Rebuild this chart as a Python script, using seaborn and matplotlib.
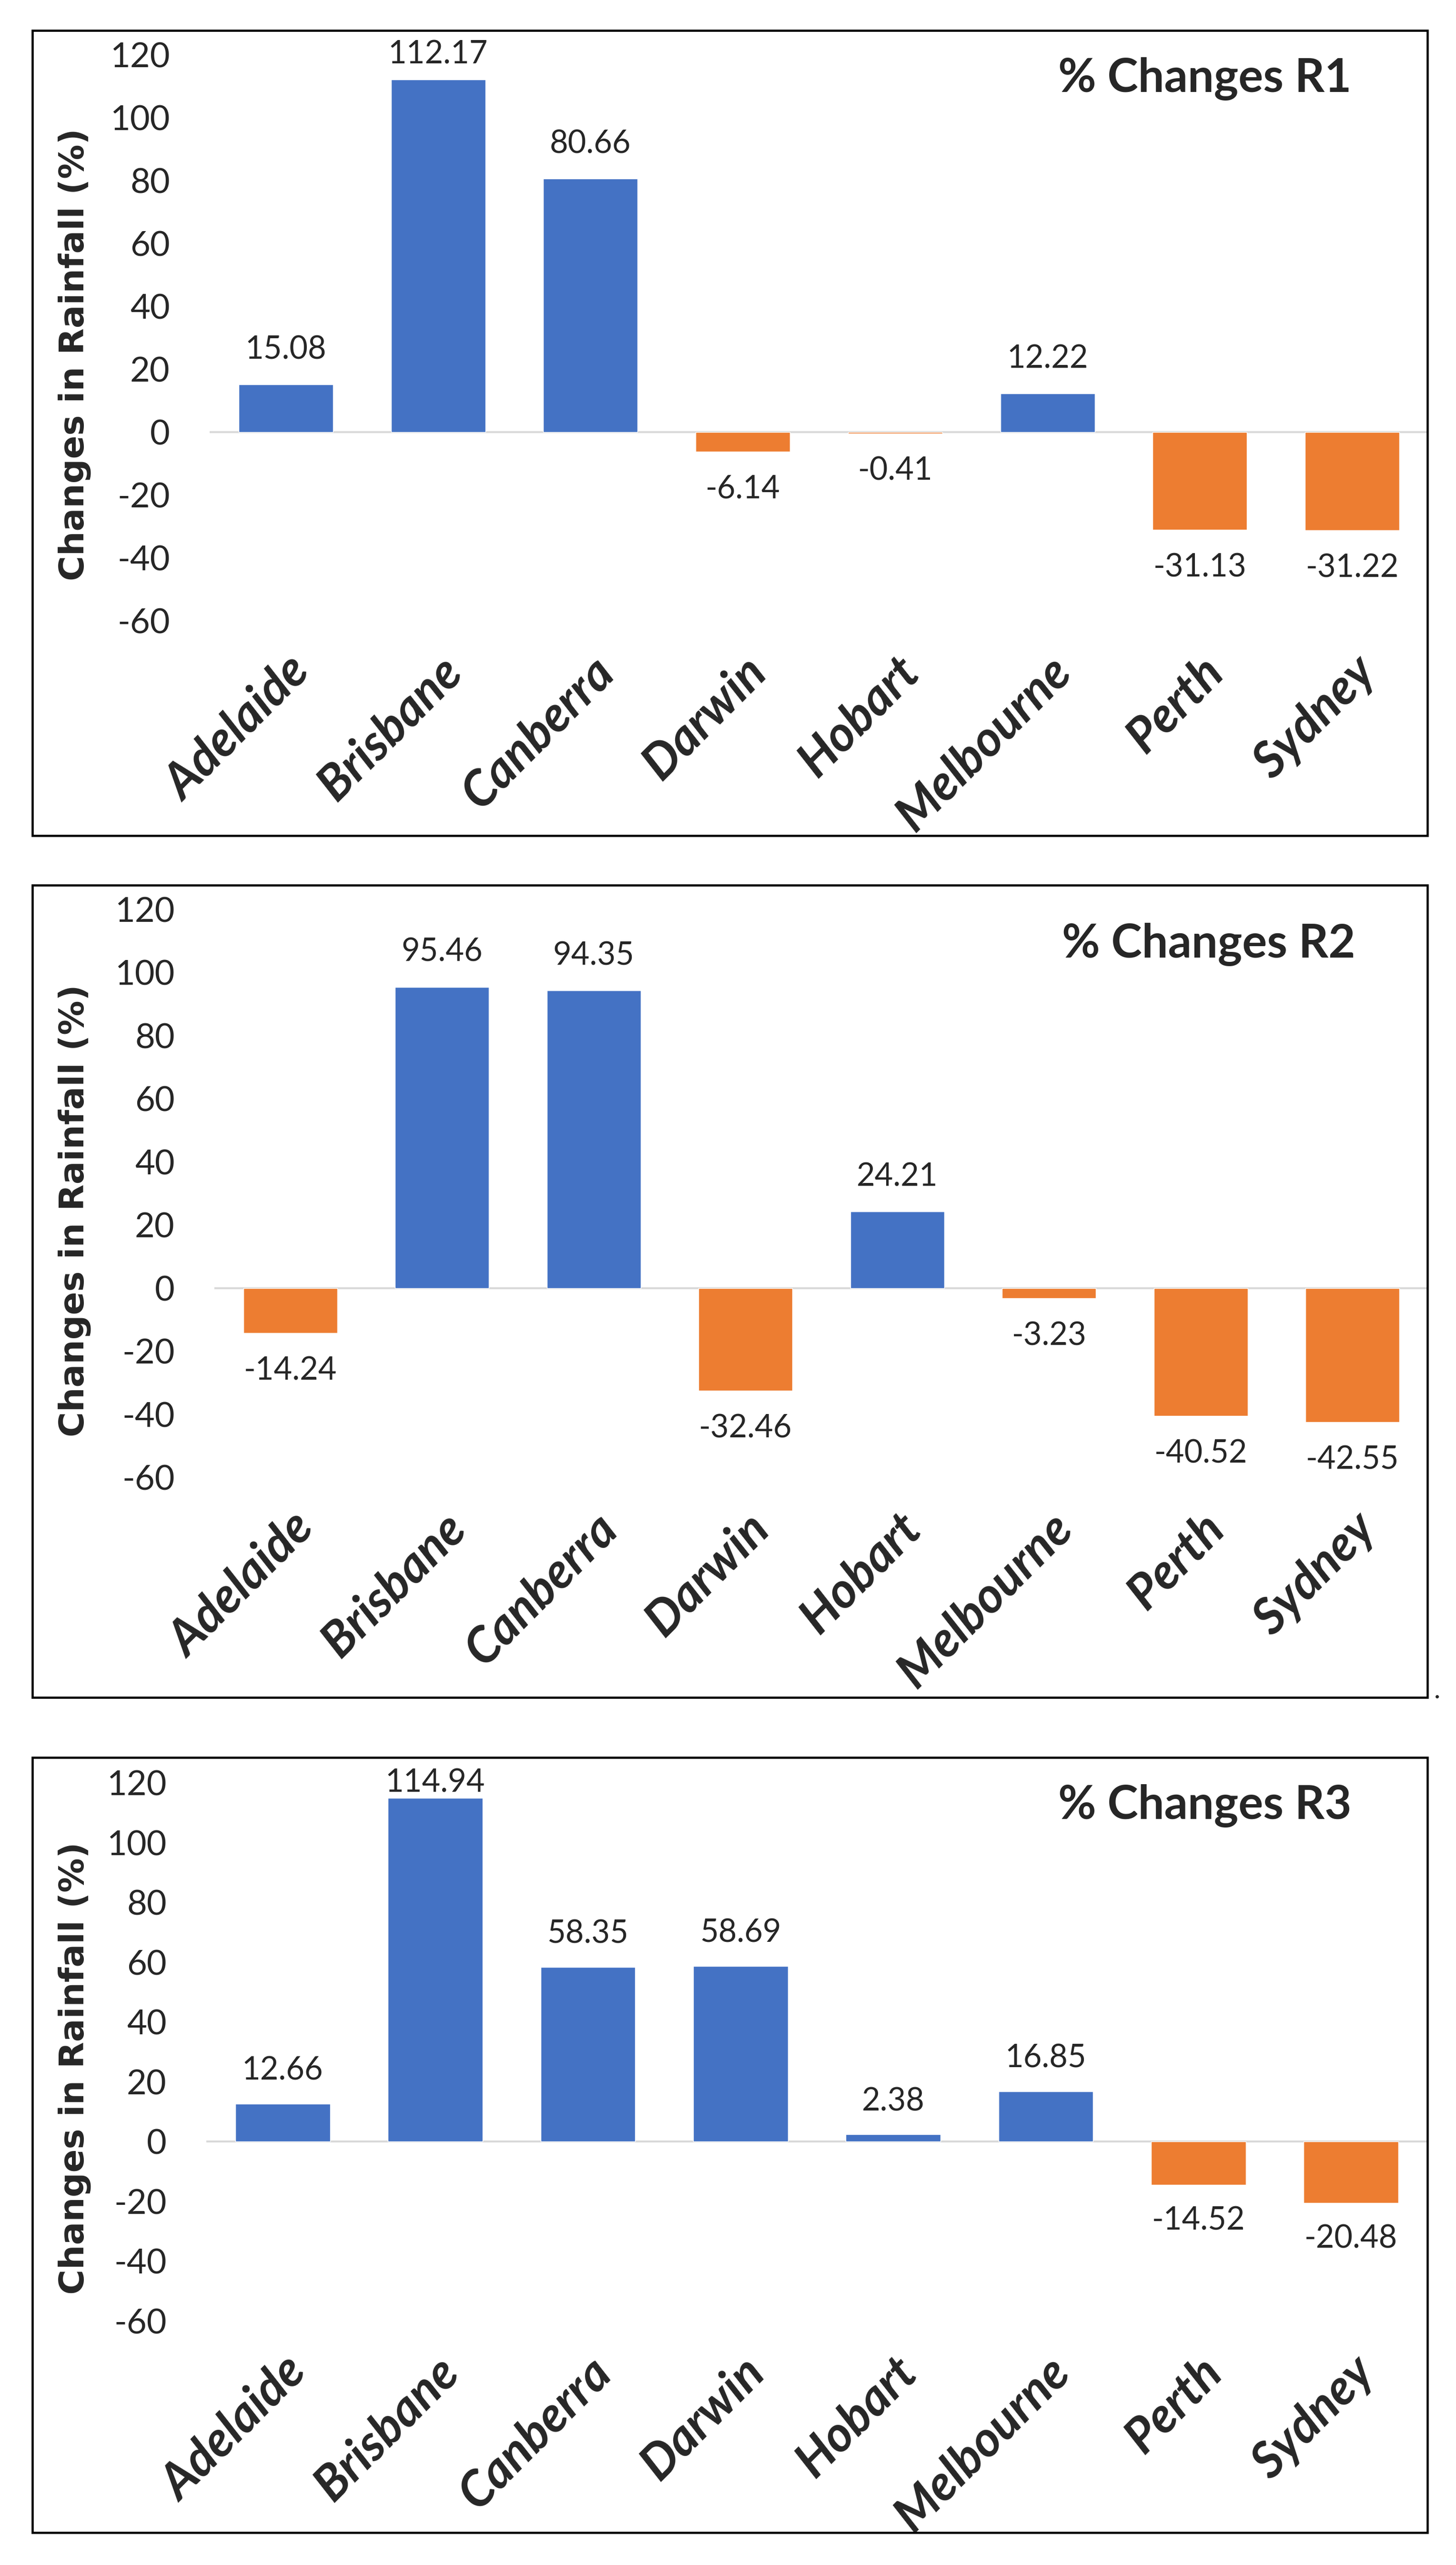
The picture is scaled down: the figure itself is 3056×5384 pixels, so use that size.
import matplotlib
matplotlib.use("Agg")
import matplotlib.pyplot as plt
from matplotlib.patches import Rectangle
import numpy as np
import pandas as pd
import seaborn as sns

# data
cities = ["Adelaide", "Brisbane", "Canberra", "Darwin", "Hobart", "Melbourne", "Perth", "Sydney"]
r1 = [15.08, 112.17, 80.66, -6.14, -0.41, 12.22, -31.13, -31.22]
r2 = [-14.24, 95.46, 94.35, -32.46, 24.21, -3.23, -40.52, -42.55]
r3 = [12.66, 114.94, 58.35, 58.69, 2.38, 16.85, -14.52, -20.48]
titles = ["% Changes R1", "% Changes R2", "% Changes R3"]
y_ticks = [-60, -40, -20, 0, 20, 40, 60, 80, 100, 120]
y_label = "Changes in Rainfall (%)"

# layout in pixels (figure is 3056 x 5384)
W, H = 3056, 5384
axes_px = [(440, 115, 2998, 1303), (450, 1909, 2998, 3101), (433, 3742, 2996, 4872)]
border_px = [(68, 64, 2996, 1754), (68, 1858, 2996, 3563), (68, 3689, 2996, 5316)]
title_pos = [(0.937, 0.934), (0.940, 0.915), (0.938, 0.933)]
ylabel_x_px = 156

BLUE, ORANGE, ZERO = "#4472C4", "#ED7D31", "#D9D9D9"

sns.set_theme(style="white")
plt.rcParams['font.family'] = ['Lato', 'DejaVu Sans']

fig = plt.figure(figsize=(W / 100, H / 100), dpi=100)

for k, vals in enumerate([r1, r2, r3]):
    l, t, r, b = axes_px[k]
    ax = fig.add_axes([l / W, 1 - b / H, (r - l) / W, (b - t) / H])

    df = pd.DataFrame({"city": cities, "value": vals})
    df["sign"] = np.where(df["value"] >= 0, "pos", "neg")
    sns.barplot(data=df, x="city", y="value", hue="sign",
                palette={"pos": BLUE, "neg": ORANGE}, dodge=False,
                width=0.62, saturation=1, legend=False, ax=ax)

    ax.axhline(0, color=ZERO, lw=3.0, zorder=0.5)
    ax.set_xlim(-0.5, len(cities) - 0.5)
    ax.set_ylim(-60, 120)
    ax.set_yticks(y_ticks)
    ax.set_yticklabels([str(v) for v in y_ticks], fontsize=52)
    ax.set_xticks(range(len(cities)))
    ax.set_xticklabels(cities, rotation=45, ha="right", va="top",
                       rotation_mode="anchor", fontsize=74,
                       fontweight="bold", fontstyle="italic")
    ax.tick_params(axis="x", length=0, pad=42)
    ax.tick_params(axis="y", length=0, pad=60)
    for s in ax.spines.values():
        s.set_visible(False)
    ax.grid(False)

    ax.set_xlabel("")
    ax.set_ylabel(y_label, fontsize=52, fontweight="bold", family=["DejaVu Sans"])
    ax.yaxis.set_label_coords((ylabel_x_px - l) / (r - l), 0.47)
    ax.yaxis.label.set_va("center")

    # value labels
    for i, v in enumerate(vals):
        y = min(v + 11, 120) if v >= 0 else v - 12
        ax.text(i, y, f"{v:.2f}", ha="center", va="center", fontsize=48)

    tx, ty = title_pos[k]
    ax.text(tx, ty, titles[k], transform=ax.transAxes, ha="right",
            va="baseline", fontsize=70, fontweight="bold")

    # chart frame
    x0, y0, x1, y1 = border_px[k]
    fig.add_artist(Rectangle((x0 / W, 1 - y1 / H), (x1 - x0) / W, (y1 - y0) / H,
                             transform=fig.transFigure, fill=False,
                             edgecolor="black", lw=3.3))

fig.text(3010 / W, 1 - 3565 / H, ".", fontsize=40)

fig.savefig("out.png", dpi=100)
